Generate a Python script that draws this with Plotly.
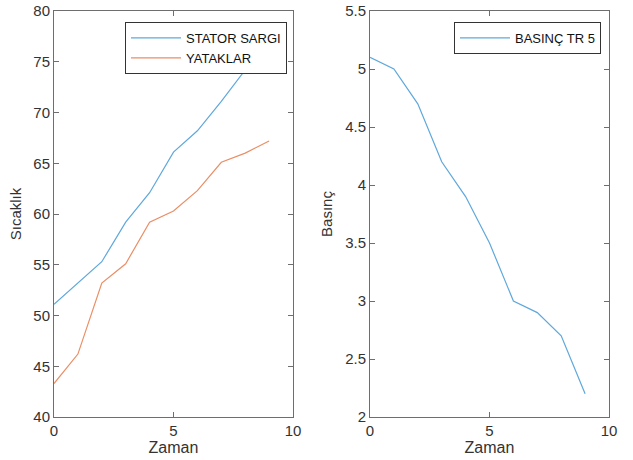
import plotly.graph_objects as go

zaman = [0, 1, 2, 3, 4, 5, 6, 7, 8, 9]
stator_sargi = [51.1, 53.2, 55.3, 59.2, 62.1, 66.1, 68.2, 71.1, 74.2, 75.2]
yataklar = [43.3, 46.2, 53.2, 55.1, 59.2, 60.3, 62.3, 65.1, 66.0, 67.2]
basinc_tr5 = [5.1, 5.0, 4.7, 4.2, 3.9, 3.5, 3.0, 2.9, 2.7, 2.2]

W, H = 633, 460
blue = "#5FA8DC"
orange = "#EA8E66"
axcol = "#6E6E6E"
txtcol = "#333333"
font = "Liberation Sans, Arial, sans-serif"

fig = go.Figure()
fig.add_trace(go.Scatter(x=zaman, y=stator_sargi, mode="lines", name="STATOR SARGI",
                         line=dict(color=blue, width=1.2), xaxis="x", yaxis="y", legend="legend"))
fig.add_trace(go.Scatter(x=zaman, y=yataklar, mode="lines", name="YATAKLAR",
                         line=dict(color=orange, width=1.2), xaxis="x", yaxis="y", legend="legend"))
fig.add_trace(go.Scatter(x=zaman, y=basinc_tr5, mode="lines", name="BASINÇ TR 5",
                         line=dict(color=blue, width=1.2), xaxis="x2", yaxis="y2", legend="legend2"))

ydom = [(H - 417) / H, (H - 11) / H]
common = dict(showline=True, linecolor=axcol, linewidth=1, mirror="allticks", ticks="inside",
              ticklen=5, tickcolor=axcol, showgrid=False, zeroline=False, automargin=False,
              tickfont=dict(family=font, size=15, color=txtcol))

fig.update_layout(
    width=W, height=H, margin=dict(l=0, r=0, t=0, b=0),
    paper_bgcolor="white", plot_bgcolor="white",
    font=dict(family=font, color=txtcol),
    xaxis=dict(domain=[54 / W, 293 / W], range=[0, 10], tickvals=[0, 5, 10], anchor="y",
               title=dict(text="Zaman", font=dict(size=16, family=font, color=txtcol), standoff=0), **common),
    yaxis=dict(domain=ydom, range=[40, 80], tickvals=list(range(40, 81, 5)), anchor="x",
               title=dict(text="Sıcaklık", font=dict(size=15, family=font, color=txtcol), standoff=8), **common),
    xaxis2=dict(domain=[370 / W, 609 / W], range=[0, 10], tickvals=[0, 5, 10], anchor="y2",
                title=dict(text="Zaman", font=dict(size=16, family=font, color=txtcol), standoff=0), **common),
    yaxis2=dict(domain=ydom, range=[2, 5.5], tickvals=[2, 2.5, 3, 3.5, 4, 4.5, 5, 5.5],
                ticktext=["2", "2.5", "3", "3.5", "4", "4.5", "5", "5.5"], anchor="x2",
                title=dict(text="Basınç", font=dict(size=15, family=font, color=txtcol), standoff=8), **common),
    legend=dict(x=287 / W, y=1 - 22 / H, xanchor="right", yanchor="top",
                bordercolor="#333333", borderwidth=1, bgcolor="white",
                font=dict(family=font, size=13, color="#111111"), tracegroupgap=0,
                itemwidth=50),
    legend2=dict(x=601 / W, y=1 - 22 / H, xanchor="right", yanchor="top",
                 bordercolor="#333333", borderwidth=1, bgcolor="white",
                 font=dict(family=font, size=13, color="#111111"), itemwidth=50),
)

fig.write_html("out.html")
